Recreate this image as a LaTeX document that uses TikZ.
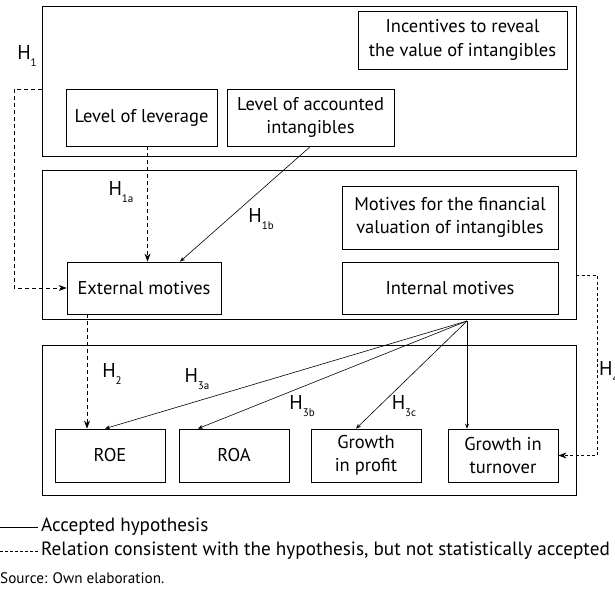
\documentclass[tikz,border=0pt]{standalone}
\usepackage{fontspec}
\setmainfont{PT Sans}
\usetikzlibrary{arrows.meta,calc}
\newcommand{\hyp}[1]{H\raisebox{-0.7ex}{\fontsize{11}{11}\selectfont #1}}
\begin{document}
\begin{tikzpicture}[x=1pt,y=-1pt,
  box/.style={draw,line width=0.8pt,inner sep=0pt,align=center,font=\fontsize{18.5}{23.5}\selectfont},
  outer/.style={draw,line width=1.0pt,inner sep=0pt},
  lab/.style={inner sep=0pt,font=\fontsize{20}{22}\selectfont},
  acc/.style={line width=0.6pt,-{Stealth[length=5pt,width=4pt]}},
  rel/.style={line width=0.8pt,dash pattern=on 4pt off 3pt,-{Stealth[length=8pt,width=6pt]}}
]
\useasboundingbox (0,0) rectangle (615,592);
% outer boxes
\node[outer,minimum width=534pt,minimum height=150pt] (b1) at (309,81) {};
\node[outer,minimum width=534pt,minimum height=149pt] (b2) at (309,244.5) {};
\node[outer,minimum width=534pt,minimum height=150pt] (b3) at (309,420) {};
% inner boxes
\node[box,minimum width=209pt,minimum height=58pt] (inc) at (462.5,40) {Incentives to reveal\\the value of intangibles};
\node[box,minimum width=151pt,minimum height=57pt] (lev) at (141.5,117.5) {Level of leverage};
\node[box,minimum width=167pt,minimum height=57pt] (acci) at (310.5,117.5) {Level of accounted\\intangibles};
\node[box,minimum width=216pt,minimum height=63pt] (mot) at (450,217.5) {Motives for the financial\\valuation of intangibles};
\node[box,minimum width=216pt,minimum height=52pt] (int) at (450,288) {Internal motives};
\node[box,minimum width=154pt,minimum height=52pt] (ext) at (144,288) {External motives};
\node[box,minimum width=110pt,minimum height=53pt] (roe) at (110,455.5) {ROE};
\node[box,minimum width=110pt,minimum height=53pt] (roa) at (234,455.5) {ROA};
\node[box,minimum width=110pt,minimum height=53pt] (prof) at (366,455.5) {Growth\\in profit};
\node[box,minimum width=110pt,minimum height=53pt] (turn) at (503,455.5) {Growth in\\turnover};
% connectors
\coordinate (h1s) at (42,89);
\draw[rel] (h1s) -- ++(-28,0) |- (ext.west);
\coordinate (h1a) at ($(lev.south)+(6,0)$);
\draw[rel] (h1a) -- (h1a |- ext.north);
\draw[acc] (acci.south) -- ($(ext.north)+(36,0)$);
\coordinate (h2) at ($(ext.south)+(-57,0)$);
\draw[rel] (h2) -- (h2 |- roe.north);
\coordinate (conv) at (467,321);
\draw[acc] (conv) -- ($(roe.north)+(-5,0)$);
\draw[acc] (conv) -- ($(roa.north)+(-36,0)$);
\draw[acc] (conv) -- ($(prof.north)+(-10,0)$);
\draw[acc] (conv) -- (conv |- turn.north);
\coordinate (h4s) at (576,275);
\draw[rel,dash pattern=on 3pt off 2.5pt] (h4s) -- ++(21,0) |- (turn.east);
% labels
\node[lab] (l1) at (27,56) {\hyp{1}};
\node[lab] (l1a) at (121,192) {\hyp{1a}};
\node[lab] (l1b) at (261,219) {\hyp{1b}};
\node[lab] (l2) at (112,374) {\hyp{2}};
\node[lab] (l3a) at (197,379) {\hyp{3a}};
\node[lab] (l3b) at (302,406) {\hyp{3b}};
\node[lab] (l3c) at (404,406) {\hyp{3c}};
\node[lab,anchor=west] (l4) at (599,372) {\hyp{4}};
% legend
\coordinate (la) at (0,527);
\coordinate (lb) at (38,527);
\draw[line width=0.7pt] (la) -- (lb);
\node[lab,anchor=west,font=\fontsize{19.2}{21}\selectfont] (t1) at (41,527) {Accepted hypothesis};
\coordinate (lc) at (0,551);
\coordinate (ld) at (38,551);
\draw[line width=0.7pt,dash pattern=on 3pt off 2pt] (lc) -- (ld);
\node[lab,anchor=west,font=\fontsize{19.2}{21}\selectfont] (t2) at (41,551) {Relation consistent with the hypothesis, but not statistically accepted};
\node[lab,anchor=west,font=\fontsize{15.2}{17}\selectfont] (src) at (0,578) {Source: Own elaboration.};
\end{tikzpicture}
\end{document}
